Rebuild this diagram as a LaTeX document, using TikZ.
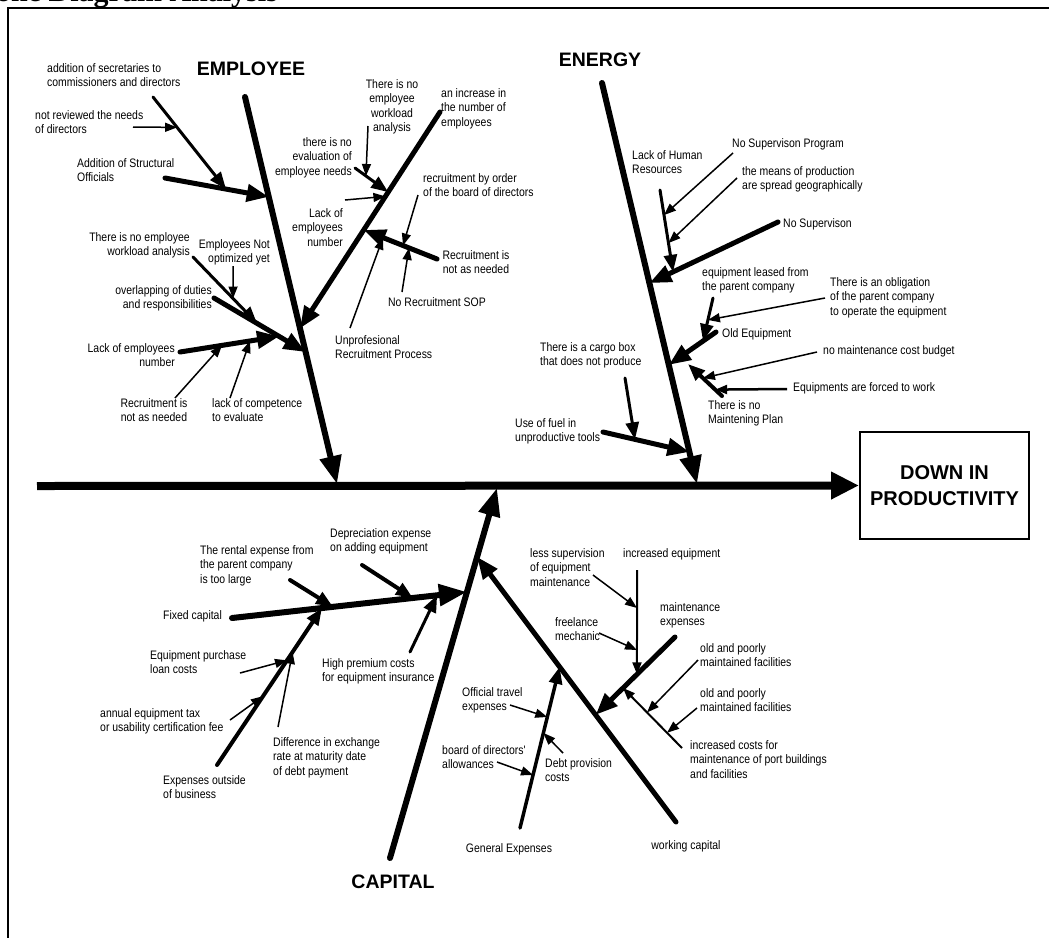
\documentclass[tikz,border=0pt]{standalone}
\usepackage{fontspec}
\setmainfont{Liberation Sans}
\newfontfamily\titleserif{Liberation Serif}
\newfontfamily\narrowsans{Liberation Sans}[FakeStretch=0.85]
\usepackage{tikz}
\usetikzlibrary{arrows.meta, calc}

\begin{document}
\begin{tikzpicture}[
    x=1pt,
    y=-1pt,
    lbl/.style={font=\narrowsans\fontsize{12.3}{14.5}\selectfont, inner sep=0pt,
                align=left, anchor=north west},
    lblr/.style={lbl, align=right, anchor=north east},
    lblc/.style={lbl, align=center, anchor=north},
    cat/.style={font=\fontsize{19.5}{22}\selectfont\bfseries, inner sep=0pt},
    spine/.style={line width=8pt, -{Triangle[length=28pt,width=26pt]}},
    bone/.style={line width=6pt, line cap=round, -{Triangle[length=28pt,width=21pt]}},
    rib/.style={line width=5pt, line cap=round, -{Triangle[length=22pt,width=17pt]}},
    twig/.style={line width=3pt, line cap=round, -{Triangle[length=17pt,width=13pt]}},
    hair/.style={line width=1.5pt, -{Triangle[length=12pt,width=9pt]}},
]
\useasboundingbox (0,0) rectangle (1049,938);
\clip (0,0) rectangle (1049,938);

\node[font=\titleserif\fontsize{30}{30}\selectfont\bfseries, inner sep=0pt, anchor=base west]
    (title) at (-4,1) {one Diagram Analysis};
\draw[line width=2pt] (1049,8) -- (8,8) -- (8,938);

% spine and effect
\coordinate (tail) at (37,486);
\node[draw, line width=2pt, minimum width=169pt, minimum height=107pt, inner sep=0pt,
      align=center, font=\fontsize{20}{26}\selectfont\bfseries]
    (eff) at (944.5,485.5) {DOWN IN\\PRODUCTIVITY};
\draw[spine] (tail) -- (eff.west);

% EMPLOYEE
\node[cat] (emp) at (251,69) {EMPLOYEE};
\coordinate (et) at (245,97);
\coordinate (eb) at (337,484);
\coordinate (e1) at ($(et)!0.258!(eb)$);
\coordinate (e2) at ($(et)!0.598!(eb)$);
\coordinate (e3) at ($(et)!0.659!(eb)$);
\draw[bone] (et) -- (eb);

\node[lbl]  (sec)  at (47,63)   {addition of secretaries to\\commissioners and directors};
\node[lbl]  (rev)  at (35,110)  {not reviewed the needs\\of directors};
\node[lbl]  (str)  at (77,158)  {Addition of Structural\\Officials};
\node[lblr] (wla)  at (190,232) {There is no employee\\workload analysis};
\node[lblr] (opt)  at (270,239) {Employees Not\\optimized yet};
\node[lblr] (ovl)  at (212,285) {overlapping of duties\\and responsibilities};
\node[lblr] (lck)  at (175,343) {Lack of employees\\number};
\node[lblc] (rna)  at (154,398) {Recruitment is\\not as needed};
\node[lbl]  (cmp)  at (212,398) {lack of competence\\to evaluate};

\coordinate (s0) at (165,178);
\coordinate (a0) at (153,97);
\coordinate (a1) at ($(s0)!0.588!(e1)$);
\coordinate (b0) at (133,127);
\coordinate (b1) at ($(a0)!0.33!(a1)$);
\draw[rib]  (s0) -- (e1);
\draw[twig] (a0) -- (a1);
\draw[hair] (b0) -- (b1);

\coordinate (o0) at (214,298);
\coordinate (w0) at (193,257);
\coordinate (w1) at ($(o0)!0.47!(e3)$);
\coordinate (p0) at (233,266);
\coordinate (p1) at ($(w0)!0.625!(w1)$);
\coordinate (l0) at (180,352);
\coordinate (l1) at ($(o0)!0.71!(e3)$);
\coordinate (r0) at (175,398);
\coordinate (r1) at ($(l0)!0.424!(l1)$);
\coordinate (c0) at (230,398);
\coordinate (c1) at ($(l0)!0.707!(l1)$);
\draw[rib]  (o0) -- (e3);
\draw[twig] (w0) -- (w1);
\draw[hair] (p0) -- (p1);
\draw[rib]  (l0) -- (l1);
\draw[hair] (r0) -- (r1);
\draw[hair] (c0) -- (c1);

\node[lblc] (nwl)  at (392,79)  {There is no\\employee\\workload\\analysis};
\node[lbl]  (inc)  at (441,88)  {an increase in\\the number of\\employees};
\node[lblr] (evl)  at (352,137) {there is no\\evaluation of\\employee needs};
\node[lblr] (len)  at (343,208) {Lack of\\employees\\number};
\node[lbl]  (bod)  at (423,173) {recruitment by order\\of the board of directors};
\node[lblc] (rnb)  at (476,250) {Recruitment is\\not as needed};
\node[lblc] (sop)  at (437,297) {No Recruitment SOP};
\node[lbl]  (unp)  at (335,335) {Unprofesional\\Recruitment Process};

\coordinate (i0) at (440,112);
\coordinate (ij) at ($(i0)!0.37!(e2)$);
\coordinate (n0) at (355,168);
\coordinate (k0) at (368,126);
\coordinate (k1) at ($(n0)!0.33!(ij)$);
\coordinate (m0) at (345,200);
\coordinate (m1) at ($(i0)!0.39!(e2)$);
\coordinate (q0) at (437,259);
\coordinate (q1) at ($(i0)!0.545!(e2)$);
\coordinate (g0) at (418,195);
\coordinate (g1) at ($(q0)!0.464!(q1)$);
\coordinate (h0) at (402,292);
\coordinate (h1) at ($(q0)!0.382!(q1)$);
\coordinate (u0) at (350,328);
\coordinate (u1) at ($(q0)!0.737!(q1)$);
\draw[rib]  (i0) -- (e2);
\draw[twig] (n0) -- (ij);
\draw[hair] (k0) -- (k1);
\draw[hair] (m0) -- (m1);
\draw[rib]  (q0) -- (q1);
\draw[hair] (g0) -- (g1);
\draw[hair] (h0) -- (h1);
\draw[hair] (u0) -- (u1);

% ENERGY
\node[cat] (nrg) at (600,60) {ENERGY};
\coordinate (nt) at (602,83);
\coordinate (nb) at (697,484);
\draw[bone] (nt) -- (nb);

\node[lbl] (lhr) at (632,150) {Lack of Human\\Resources};
\node[lbl] (nsp) at (732,138) {No Supervison Program};
\node[lbl] (mop) at (742,166) {the means of production\\are spread geographically};
\node[lbl] (nsv) at (783,218) {No Supervison};
\node[lbl] (lea) at (702,267) {equipment leased from\\the parent company};
\node[lbl] (obl) at (830,277) {There is an obligation\\of the parent company\\to operate the equipment};
\node[lbl] (old) at (722,328) {Old Equipment};
\node[lbl] (cgo) at (540,342) {There is a cargo box\\that does not produce};
\node[lbl] (nmb) at (823,345) {no maintenance cost budget};
\node[lbl] (frc) at (793,382) {Equipments are forced to work};
\node[lbl] (nmp) at (708,400) {There is no\\Maintening Plan};
\node[lbl] (ful) at (515,418) {Use of fuel in\\unproductive tools};

\coordinate (v0) at (778,222);
\coordinate (v1) at ($(nt)!0.499!(nb)$);
\coordinate (z0) at (660,190);
\coordinate (z1) at ($(v0)!0.816!(v1)$);
\coordinate (y0) at (733,153);
\coordinate (y1) at ($(z0)!0.306!(z1)$);
\coordinate (x0) at (737,178);
\coordinate (x1) at ($(z0)!0.648!(z1)$);
\draw[rib]  (v0) -- (v1);
\draw[twig] (z0) -- (z1);
\draw[hair] (y0) -- (y1);
\draw[hair] (x0) -- (x1);

\coordinate (d0) at (716,332);
\coordinate (d1) at ($(nt)!0.703!(nb)$);
\coordinate (f0) at (713,298);
\coordinate (f1) at ($(d0)!0.275!(d1)$);
\coordinate (t0) at (825,298);
\coordinate (t1) at ($(f0)!0.51!(f1)$);
\coordinate (j0) at (722,396);
\coordinate (j1) at (688,364);
\coordinate (jb0) at (817,352);
\coordinate (jb1) at ($(j0)!0.56!(j1)$);
\coordinate (jc0) at (787,389);
\coordinate (jc1) at ($(j0)!0.2!(j1)$);
\draw[rib]  (d0) -- (d1);
\draw[twig] (f0) -- (f1);
\draw[hair] (t0) -- (t1);
\draw[twig, line width=4pt] (j0) -- (j1);
\draw[hair] (jb0) -- (jb1);
\draw[hair, line width=2.5pt] (jc0) -- (jc1);

\coordinate (fu0) at (603,432);
\coordinate (fu1) at ($(nt)!0.92!(nb)$);
\coordinate (cg0) at (625,378);
\coordinate (cg1) at ($(fu0)!0.37!(fu1)$);
\draw[rib]  (fu0) -- (fu1);
\draw[twig] (cg0) -- (cg1);

% CAPITAL
\node[cat] (cap) at (393,882) {CAPITAL};
\coordinate (cb) at (390,858);
\coordinate (ct) at (497,488);
\draw[bone] (cb) -- (ct);

\node[lbl] (rnt) at (200,545) {The rental expense from\\the parent company\\is too large};
\node[lbl] (dep) at (330,528) {Depreciation expense\\on adding equipment};
\node[lbl] (fix) at (163,610) {Fixed capital};
\node[lbl] (epl) at (150,650) {Equipment purchase\\loan costs};
\node[lbl] (tax) at (100,708) {annual equipment tax\\or usability certification fee};
\node[lbl] (out) at (163,775) {Expenses outside\\of business};
\node[lbl] (dif) at (273,737) {Difference in exchange\\rate at maturity date\\of debt payment};
\node[lbl] (ins) at (322,658) {High premium costs\\for equipment insurance};

\coordinate (fx0) at (232,618);
\coordinate (fx1) at ($(cb)!0.719!(ct)$);
\coordinate (re0) at (290,580);
\coordinate (re1) at ($(fx0)!0.43!(fx1)$);
\coordinate (dp0) at (362,565);
\coordinate (dp1) at ($(fx0)!0.77!(fx1)$);
\coordinate (ou0) at (217,765);
\coordinate (ou1) at ($(fx0)!0.383!(fx1)$);
\coordinate (hp0) at (410,652);
\coordinate (hp1) at ($(fx0)!0.873!(fx1)$);
\coordinate (ep0) at (240,673);
\coordinate (ep1) at ($(ou0)!0.667!(ou1)$);
\coordinate (at0) at (230,720);
\coordinate (at1) at ($(ou0)!0.438!(ou1)$);
\coordinate (df0) at (278,727);
\coordinate (df1) at ($(ou0)!0.72!(ou1)$);
\draw[bone] (fx0) -- (fx1);
\draw[twig, line width=4pt] (re0) -- (re1);
\draw[twig, line width=4pt] (dp0) -- (dp1);
\draw[twig, line width=4pt] (ou0) -- (ou1);
\draw[twig] (hp0) -- (hp1);
\draw[hair] (ep0) -- (ep1);
\draw[hair] (at0) -- (at1);
\draw[hair] (df0) -- (df1);

\node[lbl]  (lsu) at (530,548) {less supervision\\of equipment\\maintenance};
\node[lbl]  (ieq) at (623,548) {increased equipment};
\node[lbl]  (mex) at (660,602) {maintenance\\expenses};
\node[lbl]  (frl) at (555,617) {freelance\\mechanic};
\node[lbl]  (opa) at (700,643) {old and poorly\\maintained facilities};
\node[lbl]  (opb) at (700,688) {old and poorly\\maintained facilities};
\node[lbl]  (icf) at (690,740) {increased costs for\\maintenance of port buildings\\and facilities};
\node[lbl]  (otr) at (462,687) {Official travel\\expenses};
\node[lbl]  (bda) at (442,745) {board of directors'\\allowances};
\node[lbl]  (dpc) at (545,758) {Debt provision\\costs};
\node[lblc] (gex) at (509,843) {General Expenses};
\node[lblc] (wcp) at (686,840) {working capital};

\coordinate (wc0) at (676,822);
\coordinate (wc1) at ($(cb)!0.814!(ct)$);
\coordinate (me0) at (675,637);
\coordinate (me1) at ($(wc0)!0.404!(wc1)$);
\coordinate (ie0) at (637,570);
\coordinate (ie1) at ($(me0)!0.479!(me1)$);
\coordinate (ls0) at (593,575);
\coordinate (ls1) at ($(ie0)!0.364!(ie1)$);
\coordinate (fl0) at (599,633);
\coordinate (fl1) at ($(ie0)!0.767!(ie1)$);
\coordinate (ic0) at (682,748);
\coordinate (ic1) at ($(me0)!0.655!(me1)$);
\coordinate (op0) at (698,660);
\coordinate (op1) at ($(ic0)!0.593!(ic1)$);
\coordinate (oq0) at (697,708);
\coordinate (oq1) at ($(ic0)!0.254!(ic1)$);
\draw[rib]  (wc0) -- (wc1);
\draw[rib]  (me0) -- (me1);
\draw[hair, line width=2pt] (ie0) -- (ie1);
\draw[hair] (ls0) -- (ls1);
\draw[hair] (fl0) -- (fl1);
\draw[hair, line width=2pt] (ic0) -- (ic1);
\draw[hair] (op0) -- (op1);
\draw[hair] (oq0) -- (oq1);

\coordinate (ge0) at (520,828);
\coordinate (ge1) at ($(wc0)!0.585!(wc1)$);
\coordinate (ot0) at (510,705);
\coordinate (ot1) at ($(ge0)!0.689!(ge1)$);
\coordinate (bd0) at (497,762);
\coordinate (bd1) at ($(ge0)!0.329!(ge1)$);
\coordinate (dv0) at (563,753);
\coordinate (dv1) at ($(ge0)!0.59!(ge1)$);
\draw[twig, line width=3.5pt] (ge0) -- (ge1);
\draw[hair] (ot0) -- (ot1);
\draw[hair] (bd0) -- (bd1);
\draw[hair] (dv0) -- (dv1);
\end{tikzpicture}
\end{document}
